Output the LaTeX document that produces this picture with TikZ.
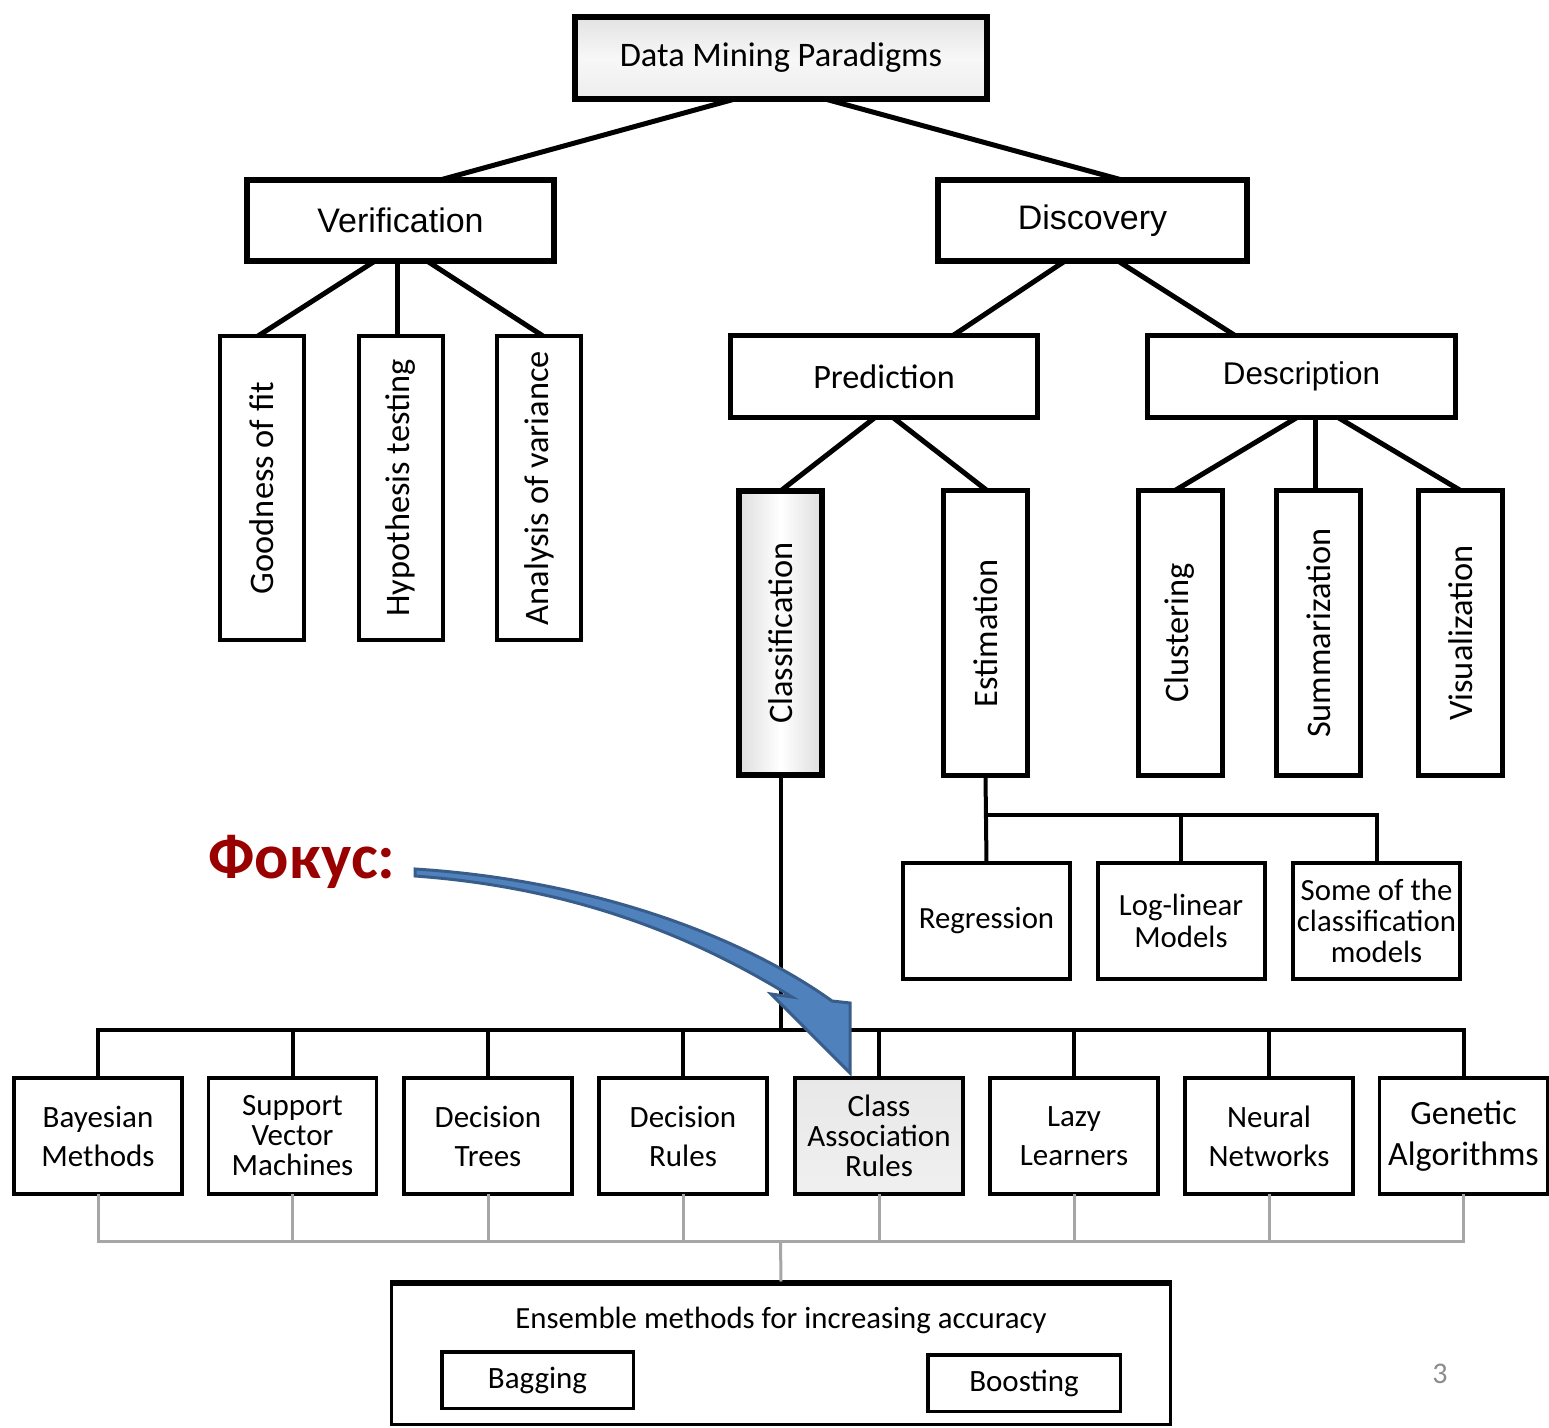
\documentclass[tikz,border=0pt]{standalone}
\usepackage{fontspec}
\setmainfont{Carlito}
\newfontfamily\arialf{Liberation Sans}
\usetikzlibrary{calc}
\definecolor{focusred}{HTML}{990000}
\definecolor{arrowfill}{HTML}{4F81BD}
\definecolor{arrowedge}{HTML}{385D8A}
\definecolor{ensgray}{HTML}{A6A6A6}
\definecolor{pagenum}{HTML}{8C8C8C}

\begin{document}
\begin{tikzpicture}[x=0.5pt,y=-0.5pt,
  bx/.style={draw, inner sep=0pt, outer sep=0pt, align=center},
  heavy/.style={bx, line width=3pt},
  mid/.style={bx, line width=2.5pt},
  light/.style={bx, line width=2pt},
  leaf/.style={bx, line width=1.75pt, minimum width=84.2pt, minimum height=58.2pt,
    font=\fontsize{15.5}{19.5}\selectfont},
  leafthree/.style={leaf, font=\fontsize{15.5}{15}\selectfont},
  vert/.style={font=\fontsize{17.2}{20}\selectfont},
  conn/.style={line width=2.5pt},
  connlow/.style={line width=2pt},
  connens/.style={line width=1.5pt, draw=ensgray}
]
\useasboundingbox (0,0) rectangle (1549,1428);

% ---- top levels
\node[heavy, shade, top color=black!11, bottom color=black!7, middle color=black!3,
  minimum width=206pt, minimum height=41pt,
  font=\fontsize{17.2}{20}\selectfont] (dmp) at (781,58) {Data Mining Paradigms};

\node[heavy, minimum width=153.5pt, minimum height=40.5pt,
  font=\arialf\fontsize{17}{20}\selectfont] (ver) at (400.5,220.5) {Verification};
\node[heavy, minimum width=154.5pt, minimum height=40.5pt,
  font=\arialf\fontsize{17}{20}\selectfont] (dis) at (1092.5,220.5) {Discovery};

% ---- verification branch
\node[light, minimum width=42pt, minimum height=152pt, vert] (gof) at (262,488) {\rotatebox{90}{Goodness of fit}};
\node[light, minimum width=42pt, minimum height=152pt, vert] (hyp) at (401,488) {\rotatebox{90}{Hypothesis testing}};
\node[light, minimum width=42pt, minimum height=152pt, vert] (ano) at (539,488) {\rotatebox{90}{Analysis of variance}};

% ---- discovery branch
\node[mid, minimum width=153.5pt, minimum height=41pt,
  font=\fontsize{17.1}{20}\selectfont] (pre) at (884,376.5) {Prediction};
\node[mid, minimum width=154pt, minimum height=41pt,
  font=\arialf\fontsize{15.7}{19}\selectfont] (des) at (1301.5,376.5) {Description};

\node[heavy, shade, left color=black!13, right color=black!13, middle color=white,
  minimum width=41.5pt, minimum height=142pt, vert] (cla) at (780.5,633) {\rotatebox{90}{Classification}};
\node[mid, minimum width=42pt, minimum height=142.5pt, vert] (est) at (985.5,633) {\rotatebox{90}{Estimation}};
\node[mid, minimum width=42pt, minimum height=142.5pt, vert] (clu) at (1180,633) {\rotatebox{90}{Clustering}};
\node[mid, minimum width=42pt, minimum height=142.5pt, vert] (sum) at (1318.5,633) {\rotatebox{90}{Summarization}};
\node[mid, minimum width=42pt, minimum height=142.5pt, vert] (vis) at (1460.5,633) {\rotatebox{90}{Visualization}};

% ---- estimation models
\node[light, minimum width=83.5pt, minimum height=58pt,
  font=\fontsize{15.4}{16}\selectfont] (reg) at (986.5,921) {Regression};
\node[light, minimum width=83.5pt, minimum height=58pt,
  font=\fontsize{15.4}{16}\selectfont] (log) at (1181,921) {Log-linear\\Models};
\node[light, minimum width=83.5pt, minimum height=58pt,
  font=\fontsize{15.4}{15.5}\selectfont] (som) at (1376.5,921) {Some of the\\classification\\models};

% ---- classification methods
\node[leaf] (b1) at (98,1136) {Bayesian\\Methods};
\node[leafthree] (b2) at (292.5,1136) {Support\\Vector\\Machines};
\node[leaf] (b3) at (488,1136) {Decision\\Trees};
\node[leaf] (b4) at (683,1136) {Decision\\Rules};
\node[leafthree, shade, top color=black!9, bottom color=black!6] (b5) at (879,1136) {Class\\Association\\Rules};
\node[leaf] (b6) at (1074,1136) {Lazy\\Learners};
\node[leaf] (b7) at (1269,1136) {Neural\\Networks};
\node[leaf, font=\fontsize{17}{20.5}\selectfont] (b8) at (1463.5,1136) {Genetic\\Algorithms};

% ---- ensemble box
\node[bx, line width=1.5pt, minimum width=389.5pt, minimum height=71.5pt] (ens) at (781,1353) {};
\draw[line width=3pt] ($(ens.north west)+(0,1)$) -- ($(ens.north east)+(0,1)$);
\node[font=\fontsize{15.4}{18}\selectfont] (enst) at (781,1320) {Ensemble methods for increasing accuracy};
\node[bx, line width=1.75pt, minimum width=95.75pt, minimum height=28.25pt,
  font=\fontsize{15.5}{18}\selectfont] (bag) at (537.5,1380) {Bagging};
\node[bx, line width=1.75pt, minimum width=96.25pt, minimum height=28.25pt,
  font=\fontsize{15.5}{18}\selectfont] (boo) at (1024,1383) {Boosting};

\node[text=pagenum, font=\fontsize{15}{18}\selectfont] (pg) at (1440,1374) {3};

% ---- connectors of the upper tree
\draw[conn] ($(dmp.south)+(-46,0)$) -- ($(ver.north)+(39.5,0)$);
\draw[conn] ($(dmp.south)+(44,0)$) -- ($(dis.north)+(29.5,0)$);
\draw[conn] ($(ver.south)+(-25.5,0)$) -- ($(gof.north)+(-4,0)$);
\draw[conn] ($(ver.south)+(-3.5,0)$) -- ($(hyp.north)+(-4,0)$);
\draw[conn] ($(ver.south)+(26.5,0)$) -- ($(ano.north)+(4,0)$);
\draw[conn] ($(dis.south)+(-27.5,0)$) -- ($(pre.north)+(69,0)$);
\draw[conn] ($(dis.south)+(25.5,0)$) -- ($(des.north)+(-66.5,0)$);
\draw[conn] ($(pre.south)+(-9,0)$) -- (cla.north);
\draw[conn] ($(pre.south)+(9,0)$) -- ($(est.north)+(1.5,0)$);
\draw[conn] ($(des.south)+(-4.5,0)$) -- ($(clu.north)+(-5,0)$);
\draw[conn] ($(des.south)+(13.5,0)$) -- ($(sum.north)+(-3.5,0)$);
\draw[conn] ($(des.south)+(36.5,0)$) -- (vis.north);

% ---- estimation bus
\coordinate (eb) at (986.5,815);
\draw[connlow] (est.south) -- (reg.north);
\draw[connlow] (eb) -| (log.north);
\draw[connlow] (eb) -| (som.north);

% ---- classification bus
\coordinate (cb) at (780.5,1030);
\draw[connlow] (cla.south) -- (cb);
\foreach \b in {b1,b2,b3,b4,b5,b6,b7,b8}
  \draw[connlow] (cb) -| (\b.north);

% ---- ensemble bus
\coordinate (gb) at (780.5,1241);
\foreach \b in {b1,b2,b3,b4,b5,b6,b7,b8}
  \draw[connens] (\b.south) |- (gb);
\draw[connens] (gb) -- (ens.north);

% ---- focus label and curved arrow
\node[text=focusred, font=\bfseries\fontsize{32}{36}\selectfont] (focus) at (302,862) {Фокус:};
\coordinate (tip) at (850,1073);
\filldraw[fill=arrowfill, draw=arrowedge, line width=1.5pt, line join=miter]
  (415,869) .. controls (590,880) and (740,935) .. (832,1001)
  -- (850,1003) -- (tip) -- (771,994) -- (792,997)
  .. controls (700,940) and (580,888) .. (415,876) -- cycle;
\end{tikzpicture}
\end{document}
